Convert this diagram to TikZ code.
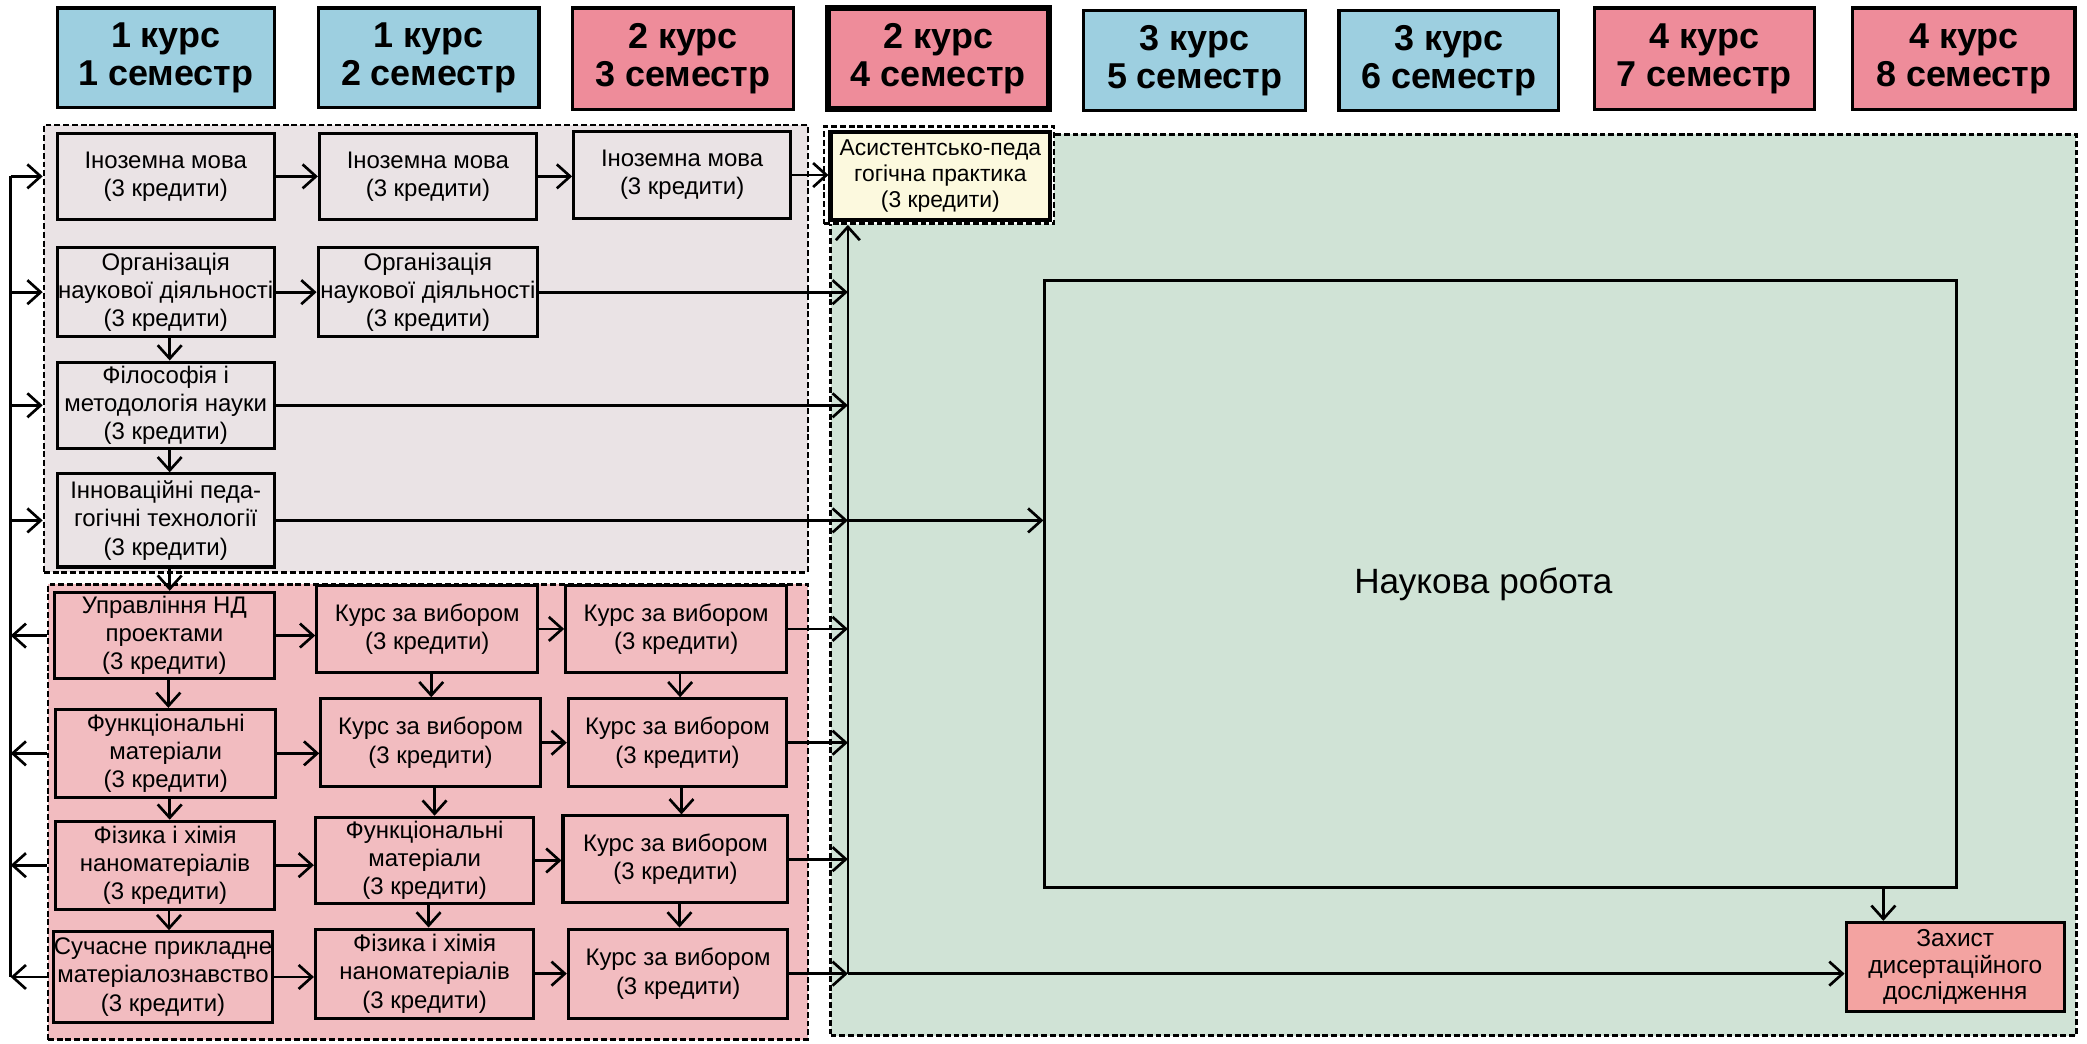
\documentclass[tikz,border=0pt]{standalone}
\usepackage{fontspec}
\setmainfont{Liberation Sans}
\usetikzlibrary{arrows.meta}
\definecolor{blueH}{RGB}{157,207,224}
\definecolor{pinkH}{RGB}{238,140,154}
\definecolor{greyR}{RGB}{234,227,229}
\definecolor{pinkR}{RGB}{242,188,192}
\definecolor{greenR}{RGB}{208,227,214}
\definecolor{yellowB}{RGB}{252,249,222}
\definecolor{zakhC}{RGB}{243,163,161}
\tikzset{
 hdr/.style={draw, line width=1.2pt, inner sep=0pt, align=center, font=\bfseries\fontsize{13.5}{14.3}\selectfont},
 region/.style={draw, line width=0.95pt, dash pattern=on 2.2pt off 1.1pt, inner sep=0pt},
 cbox/.style={draw, line width=1.15pt, inner sep=0pt, align=center, font=\fontsize{9}{10.6}\selectfont},
 arr/.style={line width=1pt, -{Straight Barb[length=5pt,width=9pt,line width=1pt]}},
 ln/.style={line width=1pt},
}
% box from (x1,y1) to (x2,y2) in picture units (0.5pt)
\newcommand\bx[7]{%
 \pgfmathsetmacro\bxw{(#5-#3)*0.5}%
 \pgfmathsetmacro\bxh{(#6-#4)*0.5}%
 \pgfmathsetmacro\bxx{(#3+#5)/2}%
 \pgfmathsetmacro\bxy{(#4+#6)/2}%
 \node[#1, minimum width=\bxw pt, minimum height=\bxh pt] (#2) at (\bxx,\bxy) {#7};}
\begin{document}
\begin{tikzpicture}[x=0.5pt,y=-0.5pt]
\useasboundingbox (0,0) rectangle (1568,784);
% headers
\bx{hdr, fill=blueH}{s1}{43}{6}{206}{81}{1 курс\\1 семестр}
\bx{hdr, fill=blueH}{s2}{239}{6}{405}{81}{1 курс\\2 семестр}
\bx{hdr, fill=pinkH}{s3}{430}{6}{596}{82}{2 курс\\3 семестр}
\bx{hdr, fill=pinkH, line width=2pt}{s4}{622}{6}{788}{82}{2 курс\\4 семестр}
\bx{hdr, fill=blueH}{s5}{814}{8}{981}{83}{3 курс\\5 семестр}
\bx{hdr, fill=blueH}{s6}{1006}{8}{1171}{83}{3 курс\\6 семестр}
\bx{hdr, fill=pinkH}{s7}{1198}{6}{1363}{82}{4 курс\\7 семестр}
\bx{hdr, fill=pinkH}{s8}{1392}{6}{1559}{82}{4 курс\\8 семестр}
% regions
\bx{region, fill=greyR}{rg}{33}{94}{607}{430}{}
\bx{region, fill=pinkR}{rp}{36}{439}{607}{781}{}
\bx{region, fill=greenR}{rgn}{624}{101}{1560}{778}{}
\bx{region, fill=white}{yo}{619}{95}{792}{168}{}
\bx{cbox, fill=yellowB, line width=1.6pt, font=\fontsize{8.6}{9.8}\selectfont}{yb}{624}{99}{789}{165}{Асистентсько-педа\\гогічна практика\\(3 кредити)}
% big boxes
\bx{draw, line width=1.1pt, fill=greenR, inner sep=0pt, font=\fontsize{13.2}{15}\selectfont}{nr}{785}{211}{1470}{667}{Наукова робота\hspace*{13pt}}
\bx{cbox, fill=zakhC, font=\fontsize{9.2}{10}\selectfont}{zh}{1387}{693}{1551}{760}{Захист\\дисертаційного\\дослідження}
% grey-region boxes
\bx{cbox, fill=greyR}{a1}{43}{100}{206}{165}{Іноземна мова\\(3 кредити)}
\bx{cbox, fill=greyR}{a2}{240}{100}{403}{165}{Іноземна мова\\(3 кредити)}
\bx{cbox, fill=greyR}{a3}{431}{99}{594}{164}{Іноземна мова\\(3 кредити)}
\bx{cbox, fill=greyR}{b1}{43}{186}{206}{253}{Організація\\наукової діяльності\\(3 кредити)}
\bx{cbox, fill=greyR}{b2}{239}{186}{404}{253}{Організація\\наукової діяльності\\(3 кредити)}
\bx{cbox, fill=greyR}{c1}{43}{272}{206}{337}{Філософія і\\методологія науки\\(3 кредити)}
\bx{cbox, fill=greyR}{d1}{43}{356}{206}{426}{Інноваційні педа-\\гогічні технології\\(3 кредити)}
% pink-region boxes
\bx{cbox, fill=pinkR}{e1}{41}{445}{206}{510}{Управління НД\\проектами\\(3 кредити)}
\bx{cbox, fill=pinkR}{e2}{238}{440}{404}{505}{Курс за вибором\\(3 кредити)}
\bx{cbox, fill=pinkR}{e3}{425}{440}{591}{505}{Курс за вибором\\(3 кредити)}
\bx{cbox, fill=pinkR}{f1}{42}{533}{207}{599}{Функціональні\\матеріали\\(3 кредити)}
\bx{cbox, fill=pinkR}{f2}{241}{525}{406}{591}{Курс за вибором\\(3 кредити)}
\bx{cbox, fill=pinkR}{f3}{427}{525}{591}{591}{Курс за вибором\\(3 кредити)}
\bx{cbox, fill=pinkR}{g1}{42}{617}{206}{683}{Фізика і хімія\\наноматеріалів\\(3 кредити)}
\bx{cbox, fill=pinkR}{g2}{237}{614}{401}{679}{Функціональні\\матеріали\\(3 кредити)}
\bx{cbox, fill=pinkR}{g3}{423}{613}{592}{678}{Курс за вибором\\(3 кредити)}
\bx{cbox, fill=pinkR}{h1}{41}{700}{204}{768}{Сучасне прикладне\\матеріалознавство\\(3 кредити)}
\bx{cbox, fill=pinkR}{h2}{237}{698}{401}{765}{Фізика і хімія\\наноматеріалів\\(3 кредити)}
\bx{cbox, fill=pinkR}{h3}{427}{698}{592}{765}{Курс за вибором\\(3 кредити)}
% helper coordinates
\coordinate (lx) at (8,0);
\coordinate (vx) at (637,0);
\coordinate (nz) at (1415,667);
% left distribution line
\draw[ln] (a1.west -| lx) -- (h1.west -| lx);
\foreach \b in {a1,b1,c1,d1} \draw[arr] (\b.west -| lx) -- (\b.west -| rg.west);
\foreach \b in {e1,f1,g1,h1} \draw[arr] (\b.west -| rp.west) -- (\b.west -| lx);
% horizontal course arrows
\foreach \a/\b in {a1/a2,a2/a3,a3/yb,b1/b2,e1/e2,e2/e3,f1/f2,f2/f3,g1/g2,g2/g3,h1/h2,h2/h3}
  \draw[arr] (\a.east) -- (\a.east -| \b.west);
\foreach \b in {b2,c1,d1,e3,f3,g3,h3} \draw[arr] (\b.east) -- (\b.east -| vx);
% vertical course arrows
\foreach \a/\b in {b1/c1,c1/d1,d1/e1,e1/f1,f1/g1,g1/h1,e2/f2,f2/g2,g2/h2,e3/f3,f3/g3,g3/h3}
  \draw[arr] ([xshift=1.5pt]\a.south) -- ([xshift=1.5pt]\a.south |- \b.north);
% collecting line on the right
\draw[arr] (h3.east -| vx) -- (yo.south -| vx);
\draw[arr] (d1.east -| vx) -- (d1.east -| nr.west);
\draw[arr] (h3.east -| vx) -- (h3.east -| zh.west);
\draw[arr] (nz) -- (nz |- zh.north);
\end{tikzpicture}
\end{document}
